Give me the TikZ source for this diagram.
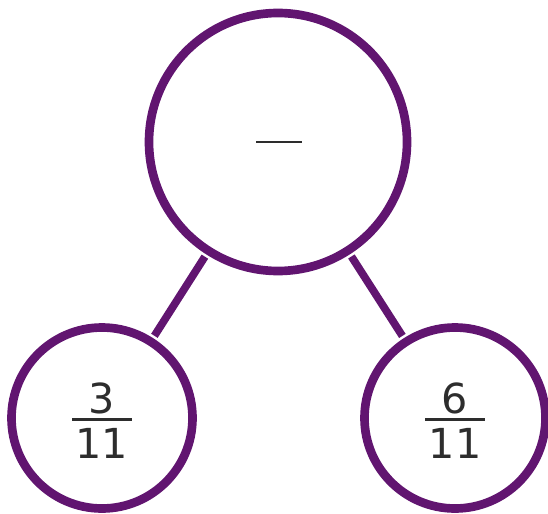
\documentclass[tikz,border=0pt]{standalone}
\usepackage{fontspec}
\setmainfont{DejaVu Sans}
\usetikzlibrary{positioning}
\definecolor{bond}{RGB}{97,21,112}
\definecolor{ink}{RGB}{45,45,45}

% stacked fraction in text font
\newcommand{\frc}[2]{{\setlength{\arrayrulewidth}{2.2pt}%
  \begin{tabular}{@{\hspace{0.08em}}c@{\hspace{0.08em}}}#1\\[-0.25em]\hline\noalign{\vskip2pt}#2\end{tabular}}}

\begin{document}
\begin{tikzpicture}[
  x=0.75pt, y=-0.75pt,
  every node/.style={inner sep=0pt, text=ink, font=\fontsize{31}{37}\selectfont},
  whole/.style={circle, draw=bond, line width=6.5pt, minimum size=193.5pt},
  part/.style={circle, draw=bond, line width=6.5pt, minimum size=135.75pt},
  link/.style={draw=bond, line width=5.8pt, shorten >=2pt, shorten <=2pt},
]
\useasboundingbox (0,0) rectangle (548,513);

% ---------------- part-whole model ----------------
\node[whole] (top)   at (278,142) {};
\node[part]  (left)  at (102,418) {};
\node[part]  (right) at (455,418) {};

\node (blank) at (279,142) {\rule{1.1em}{2.2pt}};
\node (lfrac) at (102,426) {\frc{3}{11}};
\node (rfrac) at (455,426) {\frc{6}{11}};

\draw[link] (top) -- (left);
\draw[link] (top) -- (right);

\end{tikzpicture}
\end{document}
